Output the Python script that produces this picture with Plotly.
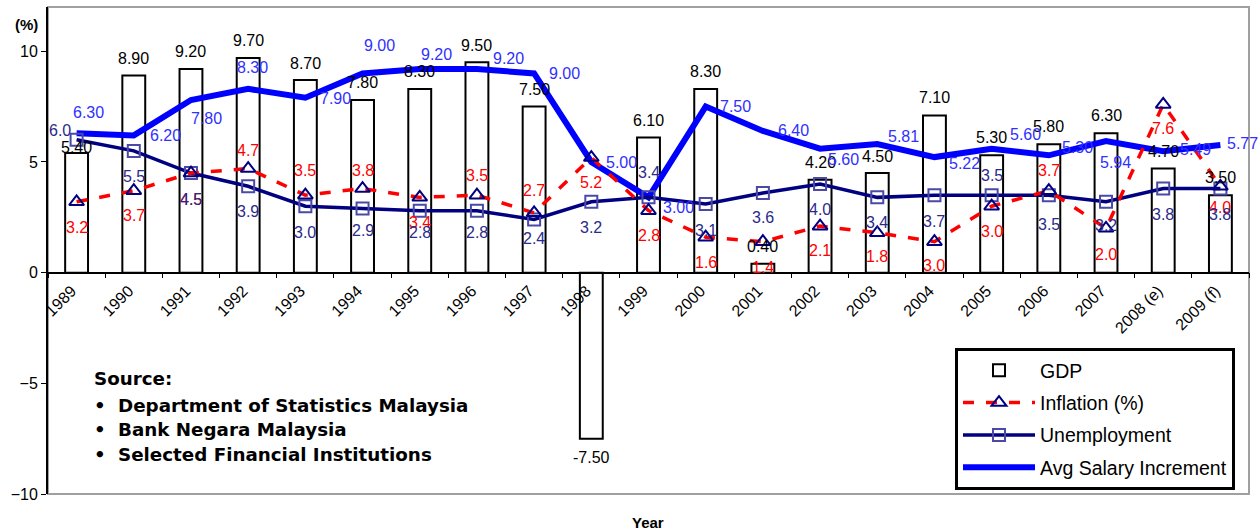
import plotly.graph_objects as go

# ---------------- data ----------------
years = ["1989", "1990", "1991", "1992", "1993", "1994", "1995", "1996", "1997", "1998",
         "1999", "2000", "2001", "2002", "2003", "2004", "2005", "2006", "2007",
         "2008 (e)", "2009 (f)"]

gdp = [5.4, 8.9, 9.2, 9.7, 8.7, 7.8, 8.3, 9.5, 7.5, -7.5,
       6.1, 8.3, 0.4, 4.2, 4.5, 7.1, 5.3, 5.8, 6.3, 4.7, 3.5]
gdp_labels = ["5.40", "8.90", "9.20", "9.70", "8.70", "7.80", "8.30", "9.50", "7.50", "-7.50",
              "6.10", "8.30", "0.40", "4.20", "4.50", "7.10", "5.30", "5.80", "6.30", "4.70", "3.50"]

inflation = [3.2, 3.7, 4.5, 4.7, 3.5, 3.8, 3.4, 3.5, 2.7, 5.2,
             2.8, 1.6, 1.4, 2.1, 1.8, 1.4, 3.0, 3.7, 2.0, 7.6, 3.9]
inflation_labels = ["3.2", "3.7", "4.5", "4.7", "3.5", "3.8", "3.4", "3.5", "2.7", "5.2",
                    "2.8", "1.6", "1.4", "2.1", "1.8", "3.0", "3.0", "3.7", "2.0", "7.6", "4.0"]

unemployment = [6.0, 5.5, 4.5, 3.9, 3.0, 2.9, 2.8, 2.8, 2.4, 3.2,
                3.4, 3.1, 3.6, 4.0, 3.4, 3.5, 3.5, 3.5, 3.2, 3.8, 3.8]
unemployment_labels = ["6.0", "5.5", "4.5", "3.9", "3.0", "2.9", "2.8", "2.8", "2.4", "3.2",
                       "3.4", "3.1", "3.6", "4.0", "3.4", "3.7", "3.5", "3.5", "3.2", "3.8", "3.8"]

salary = [6.30, 6.20, 7.80, 8.30, 7.90, 9.00, 9.20, 9.20, 9.00, 5.00,
          3.40, 7.50, 6.40, 5.60, 5.81, 5.22, 5.60, 5.30, 5.94, 5.49, 5.77]
salary_labels = ["6.30", "6.20", "7.80", "8.30", "7.90", "9.00", "9.20", "9.20", "9.00", "5.00",
                 "3.00", "7.50", "6.40", "5.60", "5.81", "5.22", "5.60", "5.30", "5.94", "5.49", "5.77"]

y_ticks = [-10, -5, 0, 5, 10]
source_lines = ["Department of Statistics Malaysia", "Bank Negara Malaysia",
                "Selected Financial Institutions"]

# ---------------- label offsets (pixels, style only) ----------------
gdp_dx = [0] * 21
gdp_dy = [6, 17, 17, 17, 17, 17, 17, 17, 17, -19, 17, 17, 17, 17, 17, 18, 18, 18, 18, 17, 18]
infl_dx = [0] * 21
infl_dy = [-26, -25, -26, 18, 25, 18, -25, 20, 22, -25, -25, -25, -26, -24, -24, -24, -25, 20, -26, -24, -21]
unemp_dx = [-17] + [0] * 20
unemp_dy = [9, -26, -26, -25, -26, -22, -22, -22, -19, -26, 25, -26, -25, -25, -25, -26, 20, -29, -24, -26, -26]
sal_dx = [12, 32, 16, 4, 30, 17, 17, 32, 30, 30, 30, 30, 31, 23, 26, 30, 34, 29, 9, 32, 22]
sal_dy = [21, 0, -19, 21, -1, 28, 14, 10, 0, -1, -10, 0, 0, -11, 8, -6, 14, 8, -21, 2, 1]

FONT = "Liberation Sans, Arial, sans-serif"
RED = "#ff0000"
NAVY = "#000080"
BLUE = "#0000ff"

fig = go.Figure()

fig.add_trace(go.Bar(
    x=years, y=gdp, name="GDP", width=0.4,
    marker=dict(color="white", line=dict(color="black", width=2)),
    legendrank=1, legendgroup="g1",
))
fig.add_trace(go.Scatter(
    x=years, y=salary, name="Avg Salary Increment", mode="lines",
    line=dict(color=BLUE, width=6), legendrank=4, legendgroup="g4",
))
fig.add_trace(go.Scatter(
    x=years, y=unemployment, name="Unemployment", mode="lines+markers",
    line=dict(color=NAVY, width=3.5),
    marker=dict(symbol="square-open", size=12, color="#4a4aa6", line=dict(width=2, color="#4a4aa6")),
    legendrank=3, legendgroup="g3",
))
fig.add_trace(go.Scatter(
    x=years, y=inflation, name="Inflation (%)", mode="lines+markers",
    line=dict(color=RED, width=3.5, dash="11px,12px"),
    marker=dict(symbol="triangle-up-open", size=13, color=NAVY, line=dict(width=2, color=NAVY)),
    legendrank=2, legendgroup="g2",
))

annotations = []


def add_labels(vals, labels, dxs, dys, color):
    # x given as the category index on the category axis
    for i, (v, t, dx, dy) in enumerate(zip(vals, labels, dxs, dys)):
        annotations.append(dict(
            x=i, y=v, xref="x", yref="y", text=t, showarrow=False,
            xanchor="center", yanchor="middle",
            xshift=dx, yshift=dy, font=dict(size=16, color=color, family=FONT),
        ))


add_labels(gdp, gdp_labels, gdp_dx, gdp_dy, "black")
add_labels(inflation, inflation_labels, infl_dx, infl_dy, RED)
add_labels(unemployment, unemployment_labels, unemp_dx, unemp_dy, "#2a2a8c")
add_labels(salary, salary_labels, sal_dx, sal_dy, "#3030ff")

# axis captions
annotations.append(dict(x=-0.0175, y=0.965, xref="paper", yref="paper", text="(%)",
                        xanchor="center", yanchor="middle", showarrow=False,
                        font=dict(size=15, color="black", family=FONT, weight="bold")))
annotations.append(dict(x=0.4996, y=-0.0575, xref="paper", yref="paper", text="Year",
                        xanchor="center", yanchor="middle", showarrow=False,
                        font=dict(size=15, color="black", family=FONT, weight="bold")))

# source block
SRC_FONT = dict(size=18.3, color="black", family="DejaVu Sans, Verdana, sans-serif", weight="bold")
src_left = (92 - 48) / 1201
txt_left = (116 - 48) / 1201
annotations.append(dict(x=src_left, y=(494 - 378) / 487, xref="paper", yref="paper", text="Source:",
                        showarrow=False, xanchor="left", yanchor="middle", font=SRC_FONT))
for k, line in enumerate(source_lines):
    yy = (494 - (405 + 24.5 * k)) / 487
    annotations.append(dict(x=src_left, y=yy, xref="paper", yref="paper", text="•",
                            showarrow=False, xanchor="left", yanchor="middle", font=SRC_FONT))
    annotations.append(dict(x=txt_left, y=yy, xref="paper", yref="paper", text=line,
                            showarrow=False, xanchor="left", yanchor="middle", font=SRC_FONT))

fig.update_layout(
    width=1260, height=531,
    margin=dict(l=48, r=11, t=7, b=37),
    paper_bgcolor="white", plot_bgcolor="white",
    font=dict(family=FONT, size=16, color="black"),
    showlegend=True,
    legend=dict(
        x=(955 - 48) / 1201, y=(494 - 348) / 487, xanchor="left", yanchor="top",
        bgcolor="white", bordercolor="black", borderwidth=3,
        font=dict(size=19.5, family=FONT, color="black"),
        itemwidth=72, tracegroupgap=4, traceorder="grouped",
    ),
    xaxis=dict(
        type="category", range=[-0.5, 20.5], anchor="free", position=10 / 22,
        showline=True, linecolor="black", linewidth=1.5,
        ticks="outside", tickson="boundaries", ticklen=5, tickcolor="black", tickwidth=1,
        tickangle=-45, tickfont=dict(size=16, family=FONT), showgrid=False, zeroline=False,
        ticklabelshift=-5, ticklabelstandoff=2,
    ),
    yaxis=dict(
        range=[-10, 12], tickvals=y_ticks, showline=True, linecolor="black", linewidth=2,
        ticks="outside", ticklen=5, tickcolor="black", tickfont=dict(size=16, family=FONT),
        showgrid=False, zeroline=False,
    ),
    shapes=[dict(type="rect", xref="paper", yref="paper", x0=0, x1=1, y0=0, y1=1,
                 line=dict(color="#a0a0a0", width=2), layer="below")],
    annotations=annotations,
    bargap=0.6,
)

fig.write_html("out.html")
